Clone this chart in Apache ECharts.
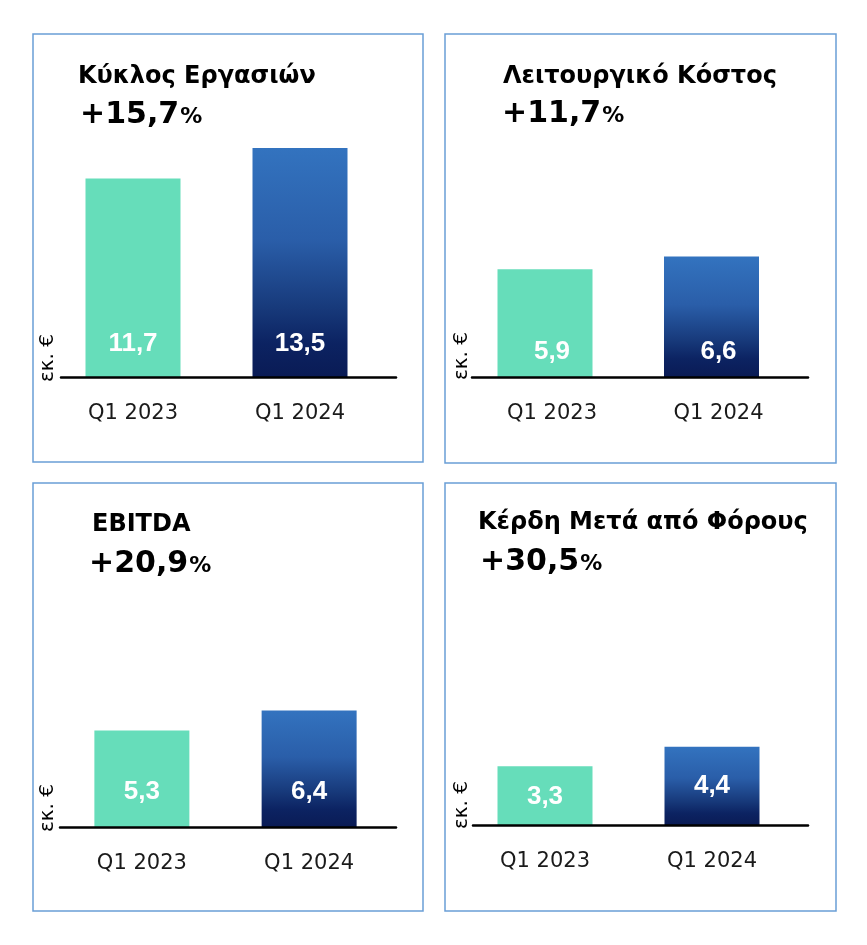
<!DOCTYPE html>
<html>
<head>
<meta charset="utf-8">
<script src="https://cdn.jsdelivr.net/npm/echarts@6/dist/echarts.min.js"></script>
<style>
html,body{margin:0;padding:0;background:#fff;}
#chart{width:867px;height:945px;}
</style>
</head>
<body>
<div id="chart"></div>
<script>
// ---- data ----
const categories = ['Q1 2023', 'Q1 2024'];
const panelTitles = ['Κύκλος Εργασιών', 'Λειτουργικό Κόστος', 'EBITDA', 'Κέρδη Μετά από Φόρους'];
const growthLabels = ['+15,7', '+11,7', '+20,9', '+30,5'];
const revenue = [11.7, 13.5];
const operatingCost = [5.9, 6.6];
const ebitda = [5.3, 6.4];
const profitAfterTax = [3.3, 4.4];
const unitLabel = 'εκ. €';
const panelValues = [revenue, operatingCost, ebitda, profitAfterTax];

// ---- layout / style ----
const layout = [
  {box:[33,34,390,428], gridLeft:49.5, gridW:334, base:377.5, scale:17.0, max:20, line:[61,396], title:[78,65], pct:[80,100], unit:[47.5,382], dist:[21,21], offX:0},
  {box:[445,34,391,429], gridLeft:461.75, gridW:333, base:377, scale:18.25, max:15, line:[472,808], title:[503,65], pct:[502,99], unit:[461.5,380], dist:[12,12], offX:7},
  {box:[33,483,390,428], gridLeft:58.25, gridW:334.5, base:827, scale:18.2, max:15, line:[60,396], title:[92,513], pct:[89,549], unit:[47.5,832], dist:[22,22], offX:0},
  {box:[445,483,391,428], gridLeft:461.5, gridW:334, base:825, scale:17.8, max:15, line:[473,808], title:[478,511], pct:[480,547], unit:[461.5,829], dist:[15,26], offX:0}
];
const tealColor = '#66DDBA';
const blueGradient = {
  type:'linear', x:0, y:0, x2:0, y2:1,
  colorStops:[
    {offset:0, color:'#3373BF'},
    {offset:0.4, color:'#2A5EA9'},
    {offset:0.7, color:'#17397A'},
    {offset:0.85, color:'#0C2362'},
    {offset:1, color:'#0A1B55'}
  ]
};
const barColors = [tealColor, blueGradient];
const titleFont = 'DejaVu Sans';
const numFont = 'Liberation Sans';

const chart = echarts.init(document.getElementById('chart'), null, {renderer:'canvas'});

const grid = [], xAxis = [], yAxis = [], series = [], title = [], graphic = [];

layout.forEach((L, i) => {
  const h = L.max * L.scale;
  // bar grid
  grid.push({left:L.gridLeft, width:L.gridW, top:L.base - h, height:h, containLabel:false});
  xAxis.push({
    type:'category', gridIndex:i, data:categories,
    axisLine:{show:false}, axisTick:{show:false},
    axisLabel:{color:'#1a1a1a', fontSize:21, fontFamily:titleFont, margin:26, padding:[0,0,0,L.offX*2]}
  });
  yAxis.push({type:'value', gridIndex:i, min:0, max:L.max, show:false});
  series.push({
    type:'bar', xAxisIndex:i, yAxisIndex:i, barWidth:95,
    data: panelValues[i].map((v, k) => ({
      value:v,
      itemStyle:{color:barColors[k]},
      label:{distance:L.dist[k]}
    })),
    label:{
      show:true, position:'insideBottom', color:'#fff',
      fontFamily:numFont, fontWeight:'bold', fontSize:26,
      offset:[L.offX,0],
      formatter: p => String(p.value).replace('.', ',')
    },
    emphasis:{disabled:true}, silent:true
  });
  // titles
  title.push({
    text:panelTitles[i], left:L.title[0], top:L.title[1], padding:0,
    textStyle:{fontFamily:titleFont, fontWeight:'bold', fontSize:24, color:'#000'}
  });
  title.push({
    text:'{a|' + growthLabels[i] + '}{b|%}', left:L.pct[0], top:L.pct[1], padding:0,
    textStyle:{
      rich:{
        a:{fontFamily:titleFont, fontWeight:'bold', fontSize:30, color:'#000'},
        b:{fontFamily:titleFont, fontWeight:'bold', fontSize:22, color:'#000', padding:[4,0,0,1]}
      }
    }
  });
  // panel border
  graphic.push({
    type:'rect', shape:{x:L.box[0], y:L.box[1], width:L.box[2], height:L.box[3]},
    style:{fill:'none', stroke:'#6A9ED6', lineWidth:1.5}, silent:true, z:0
  });
  // unit label (rotated)
  graphic.push({
    type:'text', x:L.unit[0], y:L.unit[1], rotation:Math.PI/2,
    style:{text:unitLabel, fontSize:20, fontFamily:titleFont, fill:'#000', align:'left', verticalAlign:'middle'},
    silent:true, z:10
  });
});

// baseline axes
layout.forEach((L, i) => {
  grid.push({left:L.line[0], width:L.line[1] - L.line[0], top:L.base - 10, height:10});
  xAxis.push({
    type:'category', gridIndex:4 + i, data:categories,
    axisLine:{show:true, lineStyle:{color:'#000', width:2.5}},
    axisTick:{show:false}, axisLabel:{show:false}, z:5
  });
  yAxis.push({type:'value', gridIndex:4 + i, min:0, max:1, show:false});
});

chart.setOption({
  animation:false,
  backgroundColor:'#fff',
  title, grid, xAxis, yAxis, series, graphic
});
</script>
</body>
</html>
